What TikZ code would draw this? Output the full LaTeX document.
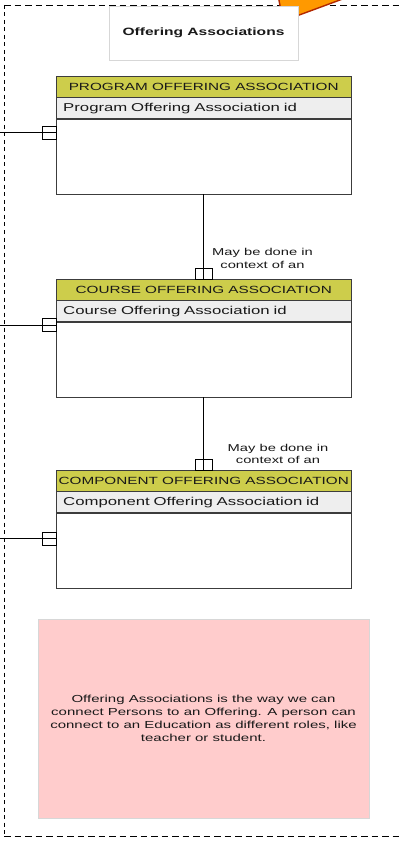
\documentclass[tikz,border=0pt]{standalone}
\usepackage{fontspec}
\setmainfont{Liberation Sans}[FakeStretch=1.47]
\usetikzlibrary{calc}
\definecolor{hdrcol}{RGB}{205,205,75}
\definecolor{attrcol}{RGB}{238,238,238}
\definecolor{notecol}{RGB}{255,204,204}
\definecolor{lightborder}{RGB}{215,215,215}
\definecolor{entborder}{RGB}{60,60,60}
\definecolor{txt}{RGB}{25,25,25}
\definecolor{orangefill}{RGB}{255,153,0}
\definecolor{orangeline}{RGB}{178,40,0}
\tikzset{
  hdr/.style={draw=entborder, fill=hdrcol, minimum width=295pt, minimum height=21pt, inner sep=0pt, anchor=north west, text=txt, font=\fontsize{10.4}{12.5}\selectfont},
  attr/.style={draw=entborder, fill=attrcol, minimum width=295pt, minimum height=21pt, inner ysep=0pt, inner xsep=7pt, text width=281pt, align=left, anchor=north west, text=txt, font=\fontsize{11.4}{13}\selectfont},
  body/.style={draw=entborder, fill=white, minimum width=295pt, minimum height=75pt, inner sep=0pt, anchor=north west},
  frameline/.style={draw=entborder, line width=0.9pt},
  conn/.style={draw=black, line width=0.8pt},
  lbl/.style={align=center, text=txt, inner sep=0pt, font=\fontsize{10}{12.5}\selectfont},
  framedash/.style={draw=black, line width=0.8pt, dash pattern=on 6.5pt off 4pt},
  framedashv/.style={draw=black, line width=0.8pt, dash pattern=on 4pt off 3.5pt},
}
\begin{document}
\begin{tikzpicture}[x=1pt,y=-1pt]
\clip (0,0) rectangle (403,842);
\fill[white] (0,0) rectangle (403,842);
% dashed frame
\coordinate (ftl) at (4,5);
\coordinate (ftr) at (403,5);
\coordinate (fbl) at (4,836);
\coordinate (fbr) at (403,836);
\draw[framedash] (ftl) -- (ftr);
\draw[framedash] (fbl) -- (fbr);
\draw[framedashv] (ftl) -- (fbl);
% orange shape
\filldraw[fill=orangefill, draw=orangeline, line width=1.4pt] (277,-10) -- (283,21) -- (367,-10) -- cycle;
% title
\node[draw=lightborder, line width=0.9pt, fill=white, minimum width=189pt, minimum height=54pt, inner sep=0pt, text=txt, font=\bfseries\fontsize{10.6}{12}\selectfont] (title) at (203.5,33) {Offering Associations};
% entity 1
\node[hdr] (e1h) at (56,76) {PROGRAM OFFERING ASSOCIATION};
\node[attr] (e1a) at (e1h.south west) {Program Offering Association id};
\node[body] (e1b) at (e1a.south west) {};
\draw[frameline] (e1h.north west) rectangle (e1b.south east);
% entity 2
\node[hdr] (e2h) at (56,279) {COURSE OFFERING ASSOCIATION};
\node[attr] (e2a) at (e2h.south west) {Course Offering Association id};
\node[body] (e2b) at (e2a.south west) {};
\draw[frameline] (e2h.north west) rectangle (e2b.south east);
% entity 3
\node[hdr] (e3h) at (56,470) {COMPONENT OFFERING ASSOCIATION};
\node[attr] (e3a) at (e3h.south west) {Component Offering Association id};
\node[body] (e3b) at (e3a.south west) {};
\draw[frameline] (e3h.north west) rectangle (e3b.south east);
% left connectors
\coordinate (l1) at (0,132.5);
\coordinate (l2) at (0,325);
\coordinate (l3) at (0,538.5);
\foreach \c/\e in {l1/e1b, l2/e2a, l3/e3b}{
  \draw[conn] (\c) -- (\c -| \e.west);
  \draw[conn] ($(\c -| \e.west)+(-14,-6.5)$) rectangle ($(\c -| \e.west)+(0,6.5)$);
}
% vertical connectors
\draw[conn] (e1b.south) -- (e2h.north);
\draw[conn] ($(e2h.north)+(-8.5,-11)$) rectangle ($(e2h.north)+(8.5,0)$);
\draw[conn] (e2b.south) -- (e3h.north);
\draw[conn] ($(e3h.north)+(-8.5,-11)$) rectangle ($(e3h.north)+(8.5,0)$);
\node[lbl] (lab1) at (262.5,258.5) {May be done in\\context of an};
\node[lbl] (lab2) at (278,454) {May be done in\\context of an};
% note
\node[draw=lightborder, line width=0.9pt, fill=notecol, minimum width=331pt, minimum height=199pt, inner sep=0pt, align=center, text=txt, font=\fontsize{10.2}{13}\selectfont] (note) at (203.5,718.5) {Offering Associations is the way we can\\connect Persons to an Offering. A person can\\connect to an Education as different roles, like\\teacher or student.};
\end{tikzpicture}
\end{document}
